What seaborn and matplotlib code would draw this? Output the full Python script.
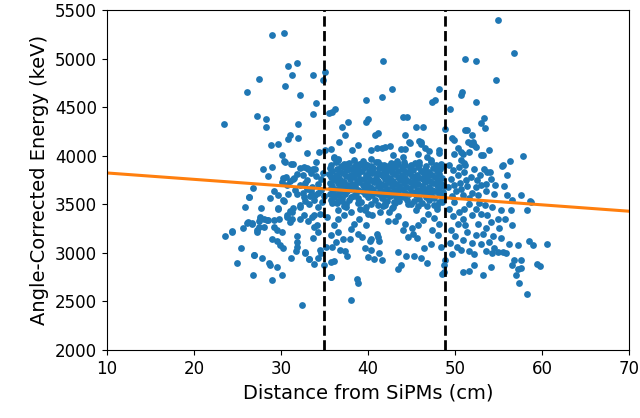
import matplotlib
matplotlib.use("Agg")
import matplotlib.pyplot as plt
import seaborn as sns
import pandas as pd

# ---- data (distance in cm, energy in keV) ----
# left group, x < 35.5
dist_left = [29.0, 30.3, 30.8, 31.9, 27.5, 31.3, 33.7, 35.1, 34.8, 30.5, 26.1, 32.2, 34.0, 33.7, 35.5,
             27.2, 28.3, 28.3, 23.4, 32.0, 31.0, 30.8, 32.0, 28.8, 29.7, 30.1, 33.0, 34.4, 30.5, 31.4,
             34.0, 27.9, 29.0, 33.0, 33.7, 32.2, 35.1, 31.2, 30.4, 32.6, 33.1,
             26.8, 26.3, 25.9, 27.7, 29.7, 30.4, 30.8, 30.2, 30.6, 31.4, 31.0,
             30.1, 30.7, 31.5, 32.2, 33.0, 33.6, 34.2, 31.9, 32.6, 33.2, 33.8, 34.3, 32.2, 31.3, 30.7,
             30.2, 29.7, 29.2, 28.4, 27.6, 28.0, 27.2, 33.8, 34.5, 35.3,
             27.6, 28.0, 28.5, 27.5, 26.2, 26.7, 25.6, 24.4, 23.6, 27.5, 27.3, 29.2, 29.6, 30.1, 29.8,
             31.0, 31.3, 30.7, 31.0, 31.4, 29.0, 29.6, 25.4, 26.9, 27.8, 24.9, 28.6, 28.7, 29.5, 26.8,
             30.1, 29.0, 32.4, 29.9, 30.2, 31.2, 31.8, 31.8, 31.8, 31.7, 32.8, 33.2, 34.2, 34.6, 33.7,
             34.2, 33.8, 34.1, 32.2, 33.1, 32.7, 33.6,
             32.2, 32.8, 33.3, 33.9, 32.5, 33.5, 24.4, 26.3, 26.1, 26.7, 26.9, 33.2, 32.8, 34.5, 33.8,
             32.5, 33.4, 34.0, 34.6, 34.8, 33.9, 34.6, 34.9, 34.2, 34.7, 33.0, 31.8, 32.8, 31.6, 29.2,
             28.7, 29.7, 28.5, 35.0, 35.2]
energy_left = [5245, 5260, 4926, 4957, 4792, 4830, 4830, 4858, 4778, 4716, 4651, 4620, 4541, 4425, 4441,
               4410, 4376, 4297, 4328, 4328, 4218, 4170, 4183, 4105, 4118, 4005, 4026, 4036, 3940, 3912,
               3940, 3861, 3884, 3870, 3865, 3875, 4057, 3919, 3943, 3884, 3867,
               3668, 3572, 3476, 3462, 3462, 3534, 3606, 3770, 3780, 3760, 3740,
               3730, 3696, 3765, 3696, 3747, 3678, 3713, 3610, 3575, 3507, 3541, 3472, 3472, 3420, 3369,
               3541, 3455, 3335, 3335, 3352, 3266, 3232, 3386, 3404, 3369,
               3369, 3352, 3342, 3325, 3318, 3301, 3256, 3221, 3173, 3266, 3214, 3266, 3239, 3214, 3352,
               3318, 3352, 3386, 3428, 3462, 3146, 3118, 3049, 2981, 2946, 2899, 2899, 2871, 2850, 2775,
               2775, 2724, 2466, 3077, 3049, 2946, 3173, 3111, 3060, 3018, 3002, 2933, 2946, 3002, 3152,
               3214, 3266, 3290, 3352, 3332, 3386, 3369,
               3490, 3530, 3580, 3600, 3620, 3640, 3214, 3575, 3311, 3307, 2974, 2940, 3008, 3026, 2888,
               3800, 3820, 3790, 3760, 3820, 3860, 3650, 3580, 3620, 3520, 3660, 3810, 3720, 3650, 3640,
               3560, 3600, 3790, 2871, 3060]

# middle group, between the cuts (sparse part)
dist_mid = [41.7, 42.8, 41.6, 39.8, 48.2, 47.7, 47.4, 36.2, 35.9, 40.0, 39.8, 37.7, 37.0, 44.0, 44.5,
            45.5, 46.3, 48.9, 41.1, 40.8, 37.4, 44.2, 45.9, 46.1, 36.7, 38.9, 44.7, 44.8, 46.1, 48.2,
            35.7, 38.2, 40.3, 41.0, 41.6, 42.0, 42.5, 43.8, 44.2, 46.5, 47.0, 48.2, 42.9, 45.8, 44.0,
            36.1, 36.5, 37.2, 38.4, 39.1, 39.5, 40.3, 41.1, 41.8, 42.6, 43.4, 43.9, 44.9, 45.9, 46.8,
            47.2, 48.0, 48.4, 36.1, 36.6, 37.6, 38.4, 39.1, 39.9,
            36.1, 36.5, 37.2, 38.0, 39.0, 39.7, 40.5, 41.4, 42.0, 42.4,
            38.0, 38.8, 39.3, 40.2, 40.4, 41.2, 41.3, 41.0,
            36.3, 37.1, 36.1, 37.4, 37.6, 36.8, 35.7, 38.7, 38.9, 38.1,
            39.6, 40.0, 40.4, 40.7, 41.3, 41.6,
            43.4, 43.8, 43.4, 44.4, 45.3, 46.1, 46.8,
            44.6, 45.2, 45.6, 46.4, 47.2,
            48.7, 48.5, 48.4, 48.7, 48.9,
            42.7, 43.5, 44.2, 45.0, 45.8, 46.3, 46.9, 47.6, 48.2, 43.0, 44.6, 45.5, 46.8, 47.9, 48.5,
            42.3, 47.3, 48.0, 44.0,
            39.1, 40.0, 41.7, 43.1, 38.4, 37.5, 36.6, 35.9, 37.0, 39.8, 36.6, 35.8, 37.9,
            35.7, 35.9, 35.7]
energy_mid = [4974, 4682, 4600, 4569, 4682, 4569, 4551, 4476, 4448, 4373, 4345, 4348, 4297, 4394, 4394,
              4297, 4297, 4270, 4229, 4208, 4218, 4214, 4152, 4118, 4136, 4105, 4136, 4132, 4142, 4029,
              4070, 4060, 4060, 4075, 4080, 4090, 4095, 4070, 4065, 4075, 4050, 4060, 4010, 4020, 3990,
              3980, 3970, 3919, 3954, 3919, 3884, 3970, 3936, 3902, 3884, 3919, 3884, 3902, 3936, 3988,
              3954, 3884, 3919, 3988, 3954, 3919, 3884, 3919, 3902,
              3283, 3352, 3386, 3420, 3352, 3438, 3386, 3420, 3490, 3420,
              3242, 3198, 3163, 3118, 3139, 3163, 3118, 3198,
              3111, 3139, 2912, 3015, 2967, 3026, 2750, 2734, 2689, 2510,
              3049, 2956, 3026, 2933, 2998, 2922,
              3008, 2871, 2830, 2967, 2967, 2946, 2899,
              3163, 3198, 3152, 3049, 3094,
              2871, 2786, 3060, 2802, 2922,
              3460, 3380, 3300, 3250, 3290, 3340, 3400, 3360, 3300, 3520, 3500, 3440, 3480, 3450, 3520,
              3330, 3230, 3180, 3230,
              3450, 3400, 3480, 3330, 3300, 3470, 3440, 3510, 3530, 3290, 3210, 3180, 3140,
              2905, 3060, 2750]

# dense core between the cuts, read row by row
core_dist = [36.3, 37.8, 39.4, 40.9, 42.6, 44.1, 45.4, 47.2, 38.6, 43.3,
             35.8, 36.9, 37.6, 38.7, 39.6, 40.4, 41.5, 42.3, 43.0, 44.2, 44.9, 45.9, 46.7, 47.8, 48.5,
             35.6, 36.4, 37.3, 38.0, 38.9, 39.7, 40.6, 41.3, 42.3, 43.1, 44.0, 44.8, 45.7, 46.6, 47.5, 48.3,
             35.9, 36.8, 37.6, 38.5, 39.3, 40.1, 41.0, 41.8, 42.7, 43.5, 44.4, 45.2, 46.1, 47.0, 47.9,
             35.5, 36.3, 37.1, 38.1, 38.8, 39.8, 40.5, 41.4, 42.1, 43.0, 43.9, 44.7, 45.6, 46.4, 47.3, 48.1,
             35.8, 36.7, 37.5, 38.4, 39.1, 40.0, 40.9, 41.7, 42.5, 43.4, 44.2, 45.1, 45.9, 46.8, 47.7, 48.5,
             36.1, 37.0, 37.9, 38.7, 39.5, 40.4, 41.2, 42.0, 42.9, 43.7, 44.6, 45.4, 46.3, 47.1, 48.0,
             35.6, 36.5, 37.3, 38.2, 39.0, 39.9, 40.7, 41.5, 42.4, 43.2, 44.1, 44.9, 45.8, 46.6, 47.5, 48.4,
             35.9, 36.9, 37.7, 38.5, 39.4, 40.2, 41.1, 41.9, 42.8, 43.6, 44.4, 45.3, 46.2, 47.0, 47.9, 48.7,
             35.7, 36.4, 37.2, 38.1, 38.9, 39.7, 40.6, 41.4, 42.2, 43.1, 43.9, 44.8, 45.6, 46.5, 47.4, 48.2,
             36.0, 36.8, 37.6, 38.6, 39.3, 40.1, 41.0, 41.8, 42.6, 43.5, 44.3, 45.1, 46.0, 46.9, 47.7, 48.6,
             35.6, 36.5, 37.4, 38.3, 39.6, 40.5, 41.3, 42.0, 43.0, 43.8, 44.7, 45.5, 46.4, 47.2, 48.1,
             36.1, 37.0, 38.0, 38.8, 40.0, 41.6, 42.5, 43.3, 44.1, 45.9, 46.7, 47.6, 48.5,
             35.8, 36.6, 37.8, 39.2, 40.8, 42.2, 43.6, 44.5, 45.3, 47.0, 48.2,
             36.4, 37.5, 38.9, 40.3, 41.9, 43.1, 44.9, 46.2, 47.6,
             37.2, 39.8, 41.1, 42.9, 45.7, 47.9]
core_energy = [3935, 3924, 3941, 3930, 3927, 3939, 3922, 3933, 3918, 3944,
               3903, 3896, 3908, 3899, 3911, 3894, 3906, 3897, 3912, 3901, 3893, 3907, 3898, 3904, 3895,
               3872, 3861, 3880, 3866, 3858, 3884, 3869, 3875, 3853, 3880, 3864, 3871, 3886, 3859, 3874, 3866,
               3843, 3834, 3850, 3829, 3846, 3838, 3825, 3852, 3836, 3845, 3831, 3848, 3840, 3827, 3844,
               3812, 3803, 3819, 3806, 3815, 3799, 3817, 3808, 3796, 3814, 3805, 3820, 3801, 3811, 3798, 3816,
               3783, 3771, 3788, 3776, 3764, 3785, 3774, 3790, 3768, 3781, 3772, 3787, 3766, 3779, 3784, 3770,
               3752, 3744, 3759, 3738, 3755, 3747, 3736, 3757, 3742, 3753, 3739, 3749, 3760, 3741, 3751,
               3723, 3714, 3728, 3709, 3725, 3717, 3731, 3712, 3726, 3706, 3719, 3729, 3711, 3724, 3716, 3708,
               3692, 3681, 3697, 3685, 3694, 3678, 3689, 3699, 3683, 3691, 3676, 3695, 3686, 3680, 3693, 3687,
               3663, 3652, 3668, 3657, 3649, 3665, 3654, 3670, 3658, 3646, 3661, 3667, 3651, 3659, 3648, 3664,
               3631, 3624, 3638, 3619, 3635, 3627, 3616, 3633, 3622, 3637, 3620, 3629, 3640, 3618, 3634, 3626,
               3602, 3593, 3608, 3588, 3605, 3596, 3610, 3591, 3599, 3587, 3604, 3594, 3609, 3590, 3601,
               3573, 3564, 3578, 3559, 3575, 3567, 3580, 3561, 3570, 3556, 3577, 3563, 3572,
               3541, 3532, 3548, 3527, 3544, 3536, 3529, 3546, 3534, 3539, 3525,
               3512, 3503, 3517, 3498, 3508, 3515, 3500, 3510, 3496,
               3482, 3474, 3488, 3470, 3479, 3485]

# right group, x > 49
dist_right = [54.9, 56.8, 51.1, 52.4, 54.7, 50.8, 50.7, 52.4, 53.3, 53.0, 53.4, 51.2, 52.0, 51.5, 52.1,
              52.4, 51.8, 51.6, 50.9, 50.7, 51.0, 53.2, 53.9, 57.8, 56.3, 55.4, 53.3,
              49.4, 49.6, 49.9, 50.3, 50.7, 49.9, 51.4, 52.2, 53.0, 54.0, 55.5,
              53.7, 56.0, 55.6, 51.8, 52.5, 53.0, 53.5, 52.4, 51.4, 54.5, 56.0, 57.6, 56.6, 58.6, 58.3,
              56.4, 55.3, 54.3, 53.4, 52.4, 51.0, 51.6, 52.8,
              49.3, 49.8, 50.3, 49.5, 50.6, 49.2, 50.1, 50.9, 49.6, 50.4, 51.0, 49.9, 51.3, 50.7, 52.0,
              51.6, 52.6, 53.6, 54.6, 52.9, 54.1, 51.2, 52.2,
              55.7, 56.5, 54.9, 53.7, 53.0, 52.0, 50.9, 51.2, 52.6, 54.1, 55.1, 53.5,
              51.4, 52.4, 53.2, 54.4, 55.3, 50.9, 52.0, 53.0, 53.9, 54.5, 55.5, 56.2, 57.2, 58.5, 58.9, 60.6,
              50.7, 51.6, 52.2, 53.5, 54.3, 54.9, 55.8,
              56.8, 57.6, 56.6, 57.2, 57.6, 59.4, 59.8,
              54.1, 53.2, 52.2, 50.9, 51.6, 57.0, 57.3, 58.3,
              49.3, 49.8, 50.3, 49.5, 50.0, 49.4, 50.5, 49.9, 50.2, 49.6, 58.7]
energy_right = [5400, 5053, 4992, 4971, 4778, 4658, 4624, 4555, 4383, 4332, 4280, 4263, 4211, 4142, 4142,
                4091, 4118, 4039, 4022, 3954, 3926, 4005, 4057, 3995, 3943, 3895, 3858,
                4476, 4187, 4160, 4074, 4039, 4022, 4263, 4108, 4005, 3833, 3902,
                3827, 3799, 3689, 3781, 3747, 3696, 3713, 3678, 3689, 3610, 3593, 3593, 3548, 3531, 3445,
                3438, 3445, 3472, 3490, 3455, 3455, 3507, 3517,
                3900, 3850, 3800, 3760, 3720, 3680, 3640, 3600, 3580, 3880, 3830, 3700, 3750, 3660, 3620,
                3560, 3590, 3640, 3700, 3800, 3760, 3900, 3860,
                3352, 3283, 3352, 3386, 3404, 3386, 3352, 3290, 3301, 3318, 3256, 3256,
                3214, 3180, 3198, 3173, 3152, 3129, 3105, 3094, 3111, 3049, 3008, 3094, 3077, 3118, 3077, 3091,
                3026, 3015, 2991, 3015, 3002, 3008, 3002,
                2929, 2922, 2871, 2830, 2843, 2888, 2864,
                2853, 2775, 2878, 2802, 2809, 2768, 2693, 2579,
                3450, 3380, 3300, 3230, 3170, 3100, 3420, 3520, 3060, 2990, 3524]

# fitted trend line end points and the two distance cuts
fit_x = [10, 70]
fit_y = [3822, 3428]
cuts = [35.0, 48.9]

df = pd.DataFrame({
    "dist": dist_left + dist_mid + core_dist + dist_right,
    "energy": energy_left + energy_mid + core_energy + energy_right,
})

fig, ax = plt.subplots(figsize=(6.4, 4.18), dpi=100)
fig.subplots_adjust(left=0.167, right=0.983, top=0.976, bottom=0.163)

sns.scatterplot(data=df, x="dist", y="energy", s=24, color="#1f77b4", linewidth=0, ax=ax)
ax.plot(fit_x, fit_y, color="#ff7f0e", lw=2.2)
for c in cuts:
    ax.axvline(c, color="k", ls="--", lw=2)

ax.set_xlim(10, 70)
ax.set_ylim(2000, 5500)
ax.set_xlabel("Distance from SiPMs (cm)", fontsize=14)
ax.set_ylabel("Angle-Corrected Energy (keV)", fontsize=14)
ax.tick_params(labelsize=12)

fig.savefig("out.png")
